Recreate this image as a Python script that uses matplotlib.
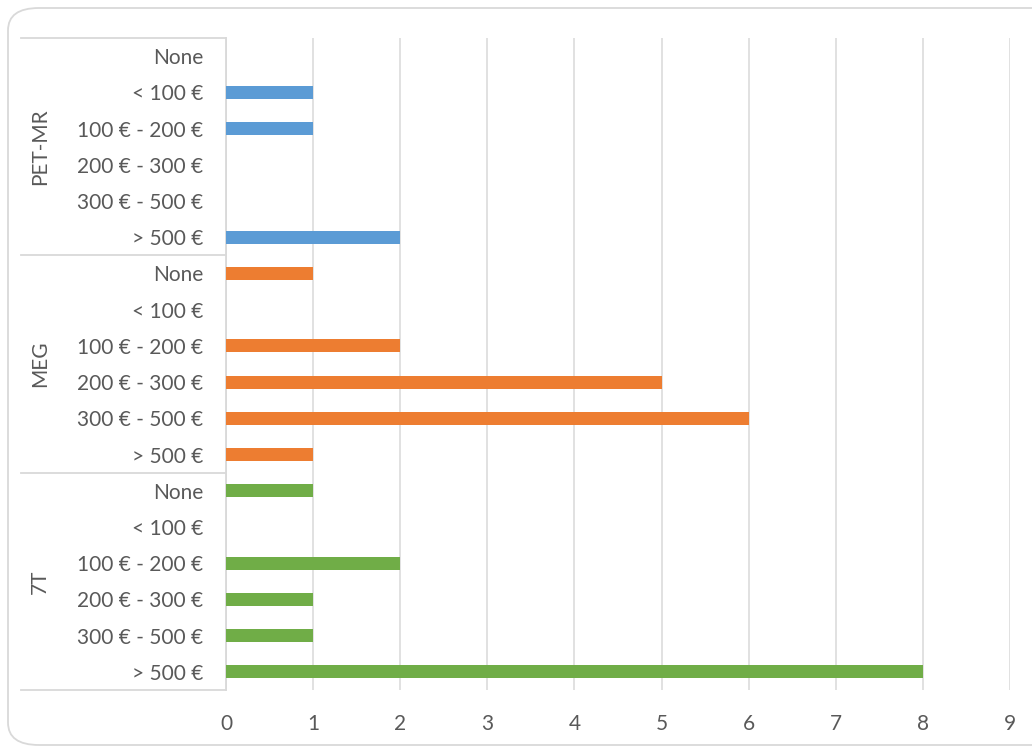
import matplotlib.pyplot as plt
import matplotlib.transforms as mtransforms
from matplotlib.patches import FancyBboxPatch

plt.rcParams['font.family'] = ['Lato', 'DejaVu Sans']

groups = ["PET-MR", "MEG", "7T"]
categories = ["None", "< 100 €", "100 € - 200 €", "200 € - 300 €", "300 € - 500 €", "> 500 €"]
pet_mr = [0, 1, 1, 0, 0, 2]
meg = [1, 0, 2, 5, 6, 1]
t7 = [1, 0, 2, 1, 1, 8]
colors = ["#5B9BD5", "#ED7D31", "#70AD47"]

text_col = "#595959"
grid_col = "#D9D9D9"

fig = plt.figure(figsize=(10.32, 7.47), dpi=100)
ax = fig.add_axes([226 / 1032, 1 - 690 / 747, 784 / 1032, 652 / 747])

# rounded frame around the chart (right side runs off the picture)
frame = FancyBboxPatch((8 / 1032, 2 / 747), 1080 / 1032, 737 / 747,
                       boxstyle="round,pad=0,rounding_size=0.03",
                       transform=fig.transFigure, facecolor="none",
                       edgecolor="#D9D9D9", linewidth=1.3, zorder=0)
fig.patches.append(frame)

n = len(categories)
total = n * len(groups)
labels = []
for gi, vals in enumerate([pet_mr, meg, t7]):
    for ci, v in enumerate(vals):
        y = total - 1 - (gi * n + ci)
        ax.barh(y, v, height=0.36, color=colors[gi], zorder=3)
        labels.append((y, categories[ci]))

ax.set_ylim(-0.5, total - 0.5)
ax.set_xlim(0, 9)
ax.set_xticks(range(10))
ax.set_yticks([y for y, _ in labels])
ax.set_yticklabels([t for _, t in labels])
ax.tick_params(axis='y', length=0, pad=16.5, labelsize=15, labelcolor=text_col)
ax.tick_params(axis='x', length=0, pad=17, labelsize=15, labelcolor=text_col)
ax.grid(axis='x', color=grid_col, linewidth=1.1, zorder=0)
for s in ["top", "right", "bottom"]:
    ax.spines[s].set_visible(False)
ax.spines["left"].set_color(grid_col)
ax.spines["left"].set_linewidth(1.3)

# group separators and labels
trans = mtransforms.blended_transform_factory(ax.transAxes, ax.transData)
for k in range(len(groups) + 1):
    yb = total - 0.5 - k * n
    ax.plot([-205 / 784, 0], [yb, yb], color=grid_col, linewidth=1.3,
            transform=trans, clip_on=False)
for gi, g in enumerate(groups):
    yc = total - 0.5 - gi * n - n / 2
    ax.text(-186 / 784, yc, g, transform=trans, rotation=90, ha='center',
            va='center', fontsize=15, color=text_col)

fig.savefig("out.png", dpi=100)
